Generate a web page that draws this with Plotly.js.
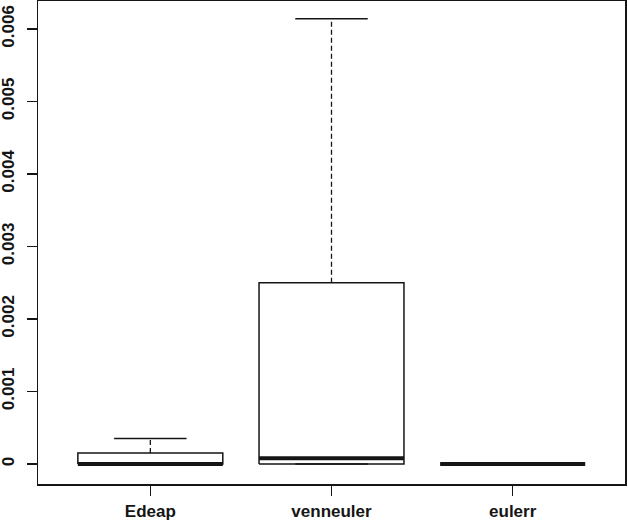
<!DOCTYPE html>
<html>
<head>
<meta charset="utf-8">
<script src="https://cdn.plot.ly/plotly-3.0.1.min.js"></script>
<style>
  html, body { margin: 0; padding: 0; background: #fff; }
  #chart { width: 628px; height: 526px; }
</style>
</head>
<body>
<div id="chart"></div>
<script>
// values
const groups = ['Edeap', 'venneuler', 'eulerr'];
const lowerWhisker = [0, 0, 0];
const lowerQuartile = [0, 0, 0];
const medians = [0, 0.00008, 0];
const upperQuartile = [0.00015, 0.0025, 0];
const upperWhisker = [0.00035, 0.00614, 0];

const yTicks = [0, 0.001, 0.002, 0.003, 0.004, 0.005, 0.006];
const yTickText = ['0', '0.001', '0.002', '0.003', '0.004', '0.005', '0.006'];

const ink = '#151515';
const halfBox = 0.4;

function lineTrace(x, y, width, dash) {
  return {
    x: x,
    y: y,
    mode: 'lines',
    type: 'scatter',
    line: { color: ink, width: width, dash: dash || 'solid' },
    hoverinfo: 'skip',
    showlegend: false,
  };
}

const traces = [];
groups.forEach((name, idx) => {
  const c = idx + 1;
  const lo = c - halfBox;
  const hi = c + halfBox;
  // dashed whiskers
  traces.push(lineTrace(
    [c, c, null, c, c],
    [upperQuartile[idx], upperWhisker[idx], null, lowerQuartile[idx], lowerWhisker[idx]],
    1.3, '5px,3px'));
  // staples
  traces.push(lineTrace(
    [c - halfBox / 2, c + halfBox / 2, null, c - halfBox / 2, c + halfBox / 2],
    [upperWhisker[idx], upperWhisker[idx], null, lowerWhisker[idx], lowerWhisker[idx]],
    1.5));
  // box
  traces.push(lineTrace(
    [lo, hi, hi, lo, lo],
    [lowerQuartile[idx], lowerQuartile[idx], upperQuartile[idx], upperQuartile[idx], lowerQuartile[idx]],
    1.5));
  // median
  traces.push(lineTrace([lo, hi], [medians[idx], medians[idx]], 4));
});

const tickFont = { family: '"Liberation Sans", Arial, sans-serif', size: 17, color: ink, weight: 'bold' };

const layout = {
  width: 628,
  height: 526,
  margin: { l: 38, r: 3, t: 1, b: 42 },
  paper_bgcolor: '#fff',
  plot_bgcolor: '#fff',
  showlegend: false,
  xaxis: {
    range: [0.38, 3.62],
    tickvals: [1, 2, 3],
    ticktext: groups,
    ticks: 'outside',
    ticklen: 10,
    tickwidth: 1.5,
    tickcolor: ink,
    ticklabelstandoff: 1,
    showline: true,
    mirror: true,
    linecolor: ink,
    linewidth: 1.5,
    showgrid: false,
    zeroline: false,
    tickfont: tickFont,
  },
  yaxis: {
    range: [-0.000276, 0.006386],
    tickvals: yTicks,
    ticktext: yTickText,
    tickangle: -90,
    ticks: 'outside',
    ticklen: 10,
    tickwidth: 1.5,
    tickcolor: ink,
    ticklabelstandoff: 6,
    showline: true,
    mirror: true,
    linecolor: ink,
    linewidth: 1.5,
    showgrid: false,
    zeroline: false,
    tickfont: tickFont,
  },
};

Plotly.newPlot('chart', traces, layout, { displayModeBar: false, staticPlot: true });
</script>
</body>
</html>
